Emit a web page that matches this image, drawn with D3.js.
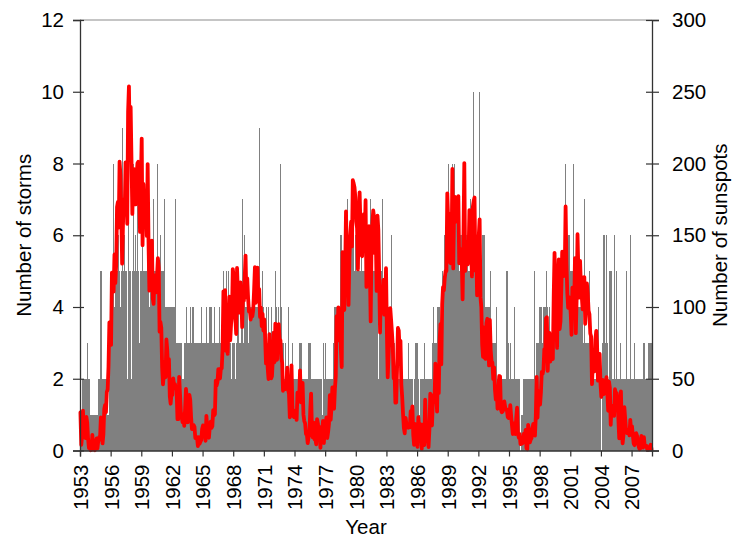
<!DOCTYPE html>
<html>
<head>
<meta charset="utf-8">
<script src="https://cdn.jsdelivr.net/npm/d3@7"></script>
<style>
  html, body { margin: 0; padding: 0; background: #ffffff; }
  svg { display: block; font-family: "Liberation Sans", Arial, sans-serif; }
</style>
</head>
<body>
<svg id="chart" width="733" height="538"></svg>
<script>
// ---- data (monthly, Jan 1953 .. Dec 2008) ----
const startYear = 1953;
const endYear = 2009;

const storms = [
  2,1,2,2,2,2,2,2,3,2,2,0,   // 1953
  1,1,1,1,1,1,1,1,1,2,2,2,   // 1954
  5,2,2,2,2,2,2,1,1,1,2,3,   // 1955
  3,3,3,8,4,5,5,3,5,6,5,4,   // 1956
  5,9,5,5,6,5,5,2,8,5,5,5,   // 1957
  2,5,8,5,5,6,5,8,5,3,5,5,   // 1958
  5,6,5,5,5,5,5,8,5,4,5,5,   // 1959
  5,5,7,5,5,5,8,5,5,5,6,5,   // 1960
  5,5,4,7,4,4,4,4,3,4,4,4,   // 1961
  4,4,4,4,7,3,3,3,3,2,3,3,   // 1962
  2,2,3,3,4,3,3,3,3,4,3,3,   // 1963
  4,3,3,3,3,3,3,2,3,3,4,3,   // 1964
  3,3,3,3,4,3,3,4,4,3,4,3,   // 1965
  3,4,3,3,3,3,3,4,3,3,3,3,   // 1966
  5,3,3,5,3,3,5,3,3,2,3,3,   // 1967
  3,3,2,3,3,4,3,3,3,4,7,3,   // 1968
  3,6,4,4,4,3,4,4,3,4,4,4,   // 1969
  4,4,3,4,4,4,9,4,4,4,5,4,   // 1970
  3,3,4,3,3,4,3,3,4,3,3,3,   // 1971
  3,5,4,3,3,4,3,8,4,3,3,1,   // 1972
  2,3,2,2,4,2,2,2,2,3,2,2,   // 1973
  0,2,2,2,2,3,2,3,2,2,2,2,   // 1974
  2,2,2,2,3,3,3,2,2,2,2,2,   // 1975
  2,2,2,2,2,2,2,2,1,3,2,2,   // 1976
  3,2,2,2,2,2,2,2,2,3,4,3,   // 1977
  4,4,3,4,4,5,6,5,5,4,5,5,   // 1978
  5,5,7,6,5,6,6,5,6,6,5,6,   // 1979
  5,6,5,5,5,5,6,5,5,5,5,5,   // 1980
  7,5,5,5,5,7,5,5,5,5,4,5,   // 1981
  5,5,2,4,5,4,5,7,4,4,4,4,   // 1982
  4,4,4,4,4,6,3,3,3,3,2,3,   // 1983
  3,2,2,2,2,2,2,2,2,1,2,2,   // 1984
  2,3,2,2,1,2,2,1,2,2,3,3,   // 1985
  3,2,1,2,2,1,2,2,3,2,1,2,   // 1986
  2,2,2,2,2,3,2,4,3,3,3,4,   // 1987
  3,4,4,3,4,5,4,4,6,5,6,6,   // 1988
  8,6,6,6,7,8,6,8,7,7,6,6,   // 1989
  6,5,5,6,5,5,5,5,5,5,6,3,   // 1990
  5,5,7,6,5,6,10,5,5,5,6,5,  // 1991
  5,10,5,5,6,6,6,4,4,4,4,4,  // 1992
  4,4,5,3,3,3,3,3,3,4,2,2,   // 1993
  2,2,2,2,2,2,2,2,2,5,2,3,   // 1994
  2,3,2,2,2,2,4,2,2,2,2,2,   // 1995
  2,0,1,1,1,2,1,2,2,2,2,2,   // 1996
  2,2,2,2,2,5,2,2,3,3,3,4,   // 1997
  4,4,4,3,4,4,4,5,4,3,3,4,   // 1998
  3,3,3,4,4,4,4,3,4,4,4,4,   // 1999
  5,4,5,5,5,4,8,5,4,6,6,5,   // 2000
  5,5,5,8,5,5,5,4,5,4,4,4,   // 2001
  3,4,3,3,7,3,3,3,3,3,5,3,   // 2002
  2,2,1,2,2,2,2,2,4,2,2,2,   // 2003
  0,3,2,6,6,3,6,3,2,2,5,3,   // 2004
  5,2,2,6,2,2,5,2,2,2,3,2,   // 2005
  2,2,2,2,2,5,2,2,2,2,6,2,   // 2006
  2,2,2,3,2,2,2,2,2,1,2,2,   // 2007
  2,2,3,2,2,2,2,3,3,2,3,3    // 2008
];

const sunspots = [
  26.5,3.9,10.0,27.8,12.5,21.8,8.6,23.5,19.3,8.2,1.6,2.5,            // 1953
  0.2,0.5,10.9,1.8,0.8,0.2,4.8,8.4,1.5,7.0,9.2,7.6,                  // 1954
  23.1,20.8,4.9,11.3,28.9,31.7,26.7,40.7,42.7,58.5,89.2,76.9,        // 1955
  73.6,124.0,118.4,110.7,136.6,116.6,129.1,169.6,173.2,155.3,201.3,192.1, // 1956
  165.0,130.2,157.4,175.2,164.6,200.7,187.2,158.0,235.8,253.8,210.9,239.4, // 1957
  202.5,164.9,190.7,196.0,175.3,171.5,191.4,200.2,201.2,181.5,152.3,187.6, // 1958
  217.4,143.1,185.7,163.3,172.0,168.7,149.6,199.6,145.2,111.4,124.0,125.0, // 1959
  146.3,106.0,102.2,122.0,119.6,110.2,121.7,134.1,127.2,82.8,89.6,85.6,   // 1960
  57.9,46.1,53.0,61.4,51.0,77.4,70.2,55.8,63.6,37.7,32.6,39.9,       // 1961
  38.7,50.3,45.6,46.4,43.7,42.0,21.8,21.8,51.3,39.5,26.9,23.2,       // 1962
  19.8,24.4,17.1,29.3,43.0,35.9,19.6,33.2,38.8,35.3,23.4,14.9,       // 1963
  15.3,17.7,16.5,8.6,9.5,9.1,3.1,9.3,4.7,6.1,7.4,15.1,               // 1964
  17.5,14.2,11.7,6.8,24.1,15.9,11.9,8.9,16.8,20.1,15.8,17.0,         // 1965
  28.2,24.4,25.3,48.7,45.3,47.7,56.7,51.2,50.2,57.2,57.2,70.4,       // 1966
  110.9,93.6,111.8,69.5,86.5,67.3,91.5,107.2,76.8,88.2,94.3,126.4,   // 1967
  121.8,111.9,92.2,81.2,127.2,110.3,96.1,109.3,117.2,107.7,86.0,109.8, // 1968
  104.4,120.5,135.8,106.8,120.0,106.0,96.8,98.0,91.3,95.7,93.5,97.9, // 1969
  111.5,127.8,102.9,109.5,127.5,106.8,112.5,93.0,99.5,86.6,95.2,83.5, // 1970
  91.3,79.0,60.7,71.8,57.5,49.8,81.0,61.4,50.2,51.7,63.2,82.2,       // 1971
  61.5,88.4,80.1,63.2,80.5,88.0,76.5,76.8,64.0,61.3,41.6,45.3,       // 1972
  43.4,42.9,46.0,57.7,42.4,39.5,23.1,25.6,59.3,30.7,23.9,23.3,       // 1973
  27.6,26.0,21.3,40.3,39.5,36.0,55.8,33.6,40.2,47.1,25.0,20.5,       // 1974
  18.9,11.5,11.5,5.1,9.0,11.4,28.2,39.7,13.9,9.1,19.4,7.8,           // 1975
  8.1,4.3,21.9,18.8,12.4,12.2,1.9,16.4,13.5,20.6,5.2,15.3,           // 1976
  16.4,23.1,8.7,12.9,18.6,38.5,21.4,30.1,44.0,43.8,29.1,43.2,        // 1977
  51.9,93.6,76.5,99.7,82.7,95.1,70.4,58.1,138.2,125.1,97.9,122.7,    // 1978
  166.6,137.5,138.0,101.5,134.4,149.5,159.4,142.2,188.4,186.2,183.3,176.3, // 1979
  159.6,155.0,126.2,164.1,179.9,157.3,136.3,135.4,155.0,164.7,147.9,174.4, // 1980
  114.0,141.3,135.5,156.4,127.5,90.0,143.8,158.7,167.3,162.4,137.5,150.1, // 1981
  111.2,163.6,153.8,122.0,82.2,110.4,106.1,107.6,118.8,94.7,98.1,127.0,   // 1982
  84.3,51.0,66.5,80.7,99.2,91.1,82.2,71.8,50.3,55.8,33.3,33.4,       // 1983
  57.0,85.4,83.5,69.7,76.4,46.1,37.4,25.5,15.7,12.0,22.8,18.7,       // 1984
  16.5,15.9,17.2,16.2,27.5,24.2,30.7,11.1,3.9,18.6,16.2,17.3,        // 1985
  2.5,23.2,15.1,18.5,13.7,1.1,18.1,7.4,3.8,35.4,15.2,6.8,            // 1986
  10.4,2.4,14.7,39.6,33.0,17.4,33.0,38.7,33.9,60.6,39.9,27.1,        // 1987
  59.0,40.0,76.2,88.0,60.1,101.8,113.8,111.6,120.1,125.1,125.1,179.2, // 1988
  161.3,165.0,131.4,130.5,138.5,196.2,126.9,168.9,176.7,159.4,173.0,165.5, // 1989
  177.3,130.5,140.3,140.3,132.2,105.4,149.4,200.3,125.2,145.5,131.4,129.7, // 1990
  136.9,167.5,141.9,140.0,121.3,169.7,173.7,176.3,125.3,144.1,108.2,144.4, // 1991
  150.0,161.1,106.7,99.8,73.8,65.2,85.7,64.5,63.9,88.7,91.8,82.6,    // 1992
  59.3,91.0,69.8,62.2,61.3,49.8,57.9,42.4,35.4,44.5,29.1,43.2,       // 1993
  51.9,51.7,28.6,26.7,27.2,31.0,34.2,30.3,28.3,28.4,23.4,22.7,       // 1994
  24.8,31.6,24.1,17.6,11.5,14.7,19.0,11.4,22.8,29.8,11.7,9.0,        // 1995
  11.5,4.4,9.2,4.8,5.5,11.8,8.2,14.4,1.6,0.9,17.9,13.3,              // 1996
  5.7,7.6,8.7,15.5,18.5,12.7,10.4,24.4,51.3,22.8,39.0,41.2,          // 1997
  31.9,40.3,54.8,53.4,56.3,70.7,66.6,92.2,92.9,55.5,74.0,81.9,       // 1998
  62.0,66.3,68.8,63.7,106.4,137.7,113.5,93.7,71.5,116.7,133.2,84.6,  // 1999
  90.1,112.9,138.5,125.5,121.6,124.9,170.1,130.5,109.7,99.4,106.8,104.4, // 2000
  95.6,80.6,113.5,107.7,96.6,134.0,81.8,106.4,150.7,125.5,106.5,132.2,   // 2001
  114.1,107.4,98.4,120.7,120.8,88.3,99.6,116.4,109.6,97.5,95.0,81.6,     // 2002
  79.5,46.2,61.5,60.0,55.2,77.4,83.3,72.7,48.7,65.5,67.3,46.5,       // 2003
  37.3,45.8,49.1,39.3,41.5,43.2,51.1,40.9,27.7,48.0,43.5,17.9,       // 2004
  31.3,29.2,24.5,24.2,42.7,39.3,40.1,36.4,22.1,8.5,18.0,41.2,        // 2005
  15.4,5.0,10.8,30.2,22.2,13.9,12.2,12.9,14.4,10.5,21.4,13.6,        // 2006
  16.9,10.6,4.8,3.7,11.7,12.0,10.0,6.2,2.4,0.9,1.7,10.1,             // 2007
  3.3,2.1,9.3,2.9,2.9,3.1,0.5,0.5,1.1,2.9,4.1,0.8                    // 2008
];

const stormTicks = [0, 2, 4, 6, 8, 10, 12];
const sunspotTicks = [0, 50, 100, 150, 200, 250, 300];
const yearTicks = [1953, 1956, 1959, 1962, 1965, 1968, 1971, 1974, 1977, 1980,
                   1983, 1986, 1989, 1992, 1995, 1998, 2001, 2004, 2007];
const xTitle = "Year";
const yLeftTitle = "Number of storms";
const yRightTitle = "Number of sunspots";

// ---- layout ----
const L = 80, R = 652, T = 20, B = 450.5;
const fontSize = "20.5px";
const axisColor = "#333333";

const svg = d3.select("#chart");

const x = d3.scaleLinear().domain([startYear, endYear]).range([L, R]);
const yL = d3.scaleLinear().domain([0, 12]).range([B, T]);
const yR = d3.scaleLinear().domain([0, 300]).range([B, T]);

const monthTime = i => startYear + i / 12;

// bars (storms)
svg.append("g")
  .attr("shape-rendering", "crispEdges")
  .selectAll("rect")
  .data(storms)
  .join("rect")
  .attr("x", (d, i) => x(monthTime(i)))
  .attr("width", (d, i) => x(monthTime(i + 1)) - x(monthTime(i)) + 0.3)
  .attr("y", d => yL(d))
  .attr("height", d => yL(0) - yL(d))
  .attr("fill", "#808080");

// line (sunspots)
const line = d3.line()
  .x((d, i) => x(monthTime(i + 0.5)))
  .y(d => yR(d));
svg.append("path")
  .datum(sunspots)
  .attr("d", line)
  .attr("fill", "none")
  .attr("stroke", "#ff0000")
  .attr("stroke-width", 3.8)
  .attr("stroke-linejoin", "round")
  .attr("stroke-linecap", "round");

// top frame line
svg.append("line")
  .attr("x1", L).attr("x2", R).attr("y1", T).attr("y2", T)
  .attr("stroke", "#8c8c8c").attr("stroke-width", 1.2);

function styleAxis(g) {
  g.select(".domain").attr("stroke", axisColor).attr("stroke-width", 1.3);
  g.selectAll(".tick line").attr("stroke", axisColor).attr("stroke-width", 1.2);
  g.selectAll(".tick text").attr("fill", "#000").style("font-size", fontSize)
    .style("font-family", '"Liberation Sans", Arial, sans-serif');
}

// left axis
const gL = svg.append("g").attr("transform", `translate(${L},0)`)
  .call(d3.axisLeft(yL).tickValues(stormTicks).tickSizeOuter(0).tickSize(7).tickPadding(9));
styleAxis(gL);
svg.append("g").attr("transform", `translate(${L},0)`)
  .call(d3.axisLeft(yL).tickValues(stormTicks).tickSize(-4).tickFormat(""))
  .call(g => g.select(".domain").remove())
  .call(g => g.selectAll(".tick line").attr("stroke", axisColor).attr("stroke-width", 1.2));

// right axis
const gR = svg.append("g").attr("transform", `translate(${R},0)`)
  .call(d3.axisRight(yR).tickValues(sunspotTicks).tickSizeOuter(0).tickSize(7).tickPadding(13));
styleAxis(gR);
svg.append("g").attr("transform", `translate(${R},0)`)
  .call(d3.axisRight(yR).tickValues(sunspotTicks).tickSize(-6).tickFormat(""))
  .call(g => g.select(".domain").remove())
  .call(g => g.selectAll(".tick line").attr("stroke", axisColor).attr("stroke-width", 1.2));

// bottom axis
const gB = svg.append("g").attr("transform", `translate(0,${B})`)
  .call(d3.axisBottom(x).tickValues(yearTicks).tickFormat(d3.format("d")).tickSizeOuter(0).tickSize(6));
styleAxis(gB);
gB.selectAll(".tick text")
  .attr("transform", "rotate(-90)")
  .attr("text-anchor", "end")
  .attr("x", -14)
  .attr("y", 0)
  .attr("dy", "0.36em");

// titles
svg.append("text")
  .attr("transform", `translate(31,${(T + B) / 2}) rotate(-90)`)
  .attr("text-anchor", "middle")
  .style("font-size", fontSize)
  .text(yLeftTitle);

svg.append("text")
  .attr("transform", `translate(727,${(T + B) / 2}) rotate(-90)`)
  .attr("text-anchor", "middle")
  .style("font-size", fontSize)
  .text(yRightTitle);

svg.append("text")
  .attr("x", (L + R) / 2)
  .attr("y", 534)
  .attr("text-anchor", "middle")
  .style("font-size", fontSize)
  .text(xTitle);
</script>
</body>
</html>
